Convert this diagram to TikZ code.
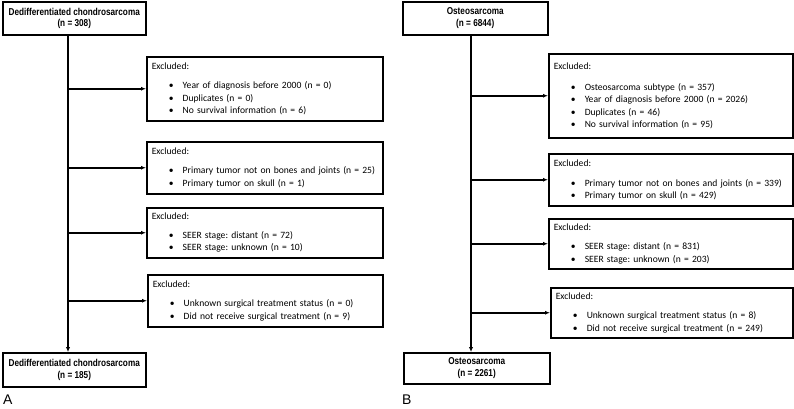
\documentclass[tikz,border=0pt]{standalone}
\usepackage{fontspec}
\setmainfont{Carlito}
\newfontfamily\titlefont[FakeStretch=0.82]{Liberation Sans}
\newfontfamily\panelfont{Liberation Sans}
\usetikzlibrary{arrows.meta}
\frenchspacing
\newcommand{\itm}[1]{\hspace*{17pt}\makebox[14pt][l]{\textbullet}#1}

\begin{document}
\begin{tikzpicture}[x=1pt,y=-1pt,
		mainbox/.style={draw, line width=1.5pt, anchor=north west, inner sep=0pt, align=center, font={\titlefont\bfseries\fontsize{10}{11.5}\selectfont}},
		exbox/.style={draw, line width=1.5pt, anchor=north west, inner xsep=5pt, inner ysep=2pt, align=left, font={\fontsize{9.6}{12.3}\selectfont}},
		flow/.style={line width=2pt, -{Latex[length=5pt,width=4.5pt]}},
		branch/.style={line width=1.6pt, -{Latex[length=5pt,width=4pt]}}]
	\useasboundingbox (0,0) rectangle (794,408);
	%%%%% PANEL A %%%%%
	\coordinate (spineA) at (68,0);
	\node[mainbox, minimum width=143pt, minimum height=33pt] (topA) at (2,1) {Dedifferentiated chondrosarcoma\\(n = 308)};
	
	\node[exbox, text width=226pt, minimum height=64pt] (exA1) at (146,56) {Excluded:\\[7pt]
		\itm{Year of diagnosis before 2000 (n = 0)}\\
		\itm{Duplicates (n = 0)}\\
		\itm{No survival information (n = 6)}};
	
	\node[exbox, text width=226pt, minimum height=52pt] (exA2) at (146,141) {Excluded:\\[7pt]
		\itm{Primary tumor not on bones and joints (n = 25)}\\
		\itm{Primary tumor on skull (n = 1)}};
	
	\node[exbox, text width=226pt, minimum height=50pt] (exA3) at (146,207) {Excluded:\\[6pt]
		\itm{SEER stage: distant (n = 72)}\\
		\itm{SEER stage: unknown (n = 10)}};
	
	\node[exbox, text width=225pt, minimum height=52pt] (exA4) at (147,274) {Excluded:\\[7pt]
		\itm{Unknown surgical treatment status (n = 0)}\\
		\itm{Did not receive surgical treatment (n = 9)}};
	
	\node[mainbox, minimum width=143pt, minimum height=34pt] (botA) at (2,352) {Dedifferentiated chondrosarcoma\\(n = 185)};
	
	\draw[flow] (topA.south -| spineA) -- (botA.north -| spineA);
	\foreach \b in {exA1,exA2,exA3,exA4}
		\draw[branch] (\b.west -| spineA) -- (\b.west);
	
	\node[anchor=west, inner sep=0pt, font={\panelfont\fontsize{14}{14}\selectfont}] (labA) at (3,400) {A};
	
	%%%%% PANEL B %%%%%
	\coordinate (spineB) at (471,0);
	\node[mainbox, minimum width=145pt, minimum height=33pt] (topB) at (402,1) {Osteosarcoma\\(n = 6844)};
	
	\node[exbox, text width=234pt, minimum height=84pt] (exB1) at (548,53) {Excluded:\\[9pt]
		\itm{Osteosarcoma subtype (n = 357)}\\
		\itm{Year of diagnosis before 2000 (n = 2026)}\\
		\itm{Duplicates (n = 46)}\\
		\itm{No survival information (n = 95)}};
	
	\node[exbox, text width=234pt, minimum height=52pt] (exB2) at (548,153) {Excluded:\\[8pt]
		\itm{Primary tumor not on bones and joints (n = 339)}\\
		\itm{Primary tumor on skull (n = 429)}};
	
	\node[exbox, text width=234pt, minimum height=50pt] (exB3) at (548,218) {Excluded:\\[7pt]
		\itm{SEER stage: distant (n = 831)}\\
		\itm{SEER stage: unknown (n = 203)}};
	
	\node[exbox, text width=232pt, minimum height=50pt] (exB4) at (550,287) {Excluded:\\[7pt]
		\itm{Unknown surgical treatment status (n = 8)}\\
		\itm{Did not receive surgical treatment (n = 249)}};
	
	\node[mainbox, minimum width=146pt, minimum height=31pt] (botB) at (403,352) {Osteosarcoma\\(n = 2261)};
	
	\draw[flow] (topB.south -| spineB) -- (botB.north -| spineB);
	\foreach \b in {exB1,exB2,exB3,exB4}
		\draw[branch] (\b.west -| spineB) -- (\b.west);
	
	\node[anchor=west, inner sep=0pt, font={\panelfont\fontsize{14}{14}\selectfont}] (labB) at (402,400) {B};
\end{tikzpicture}
\end{document}
